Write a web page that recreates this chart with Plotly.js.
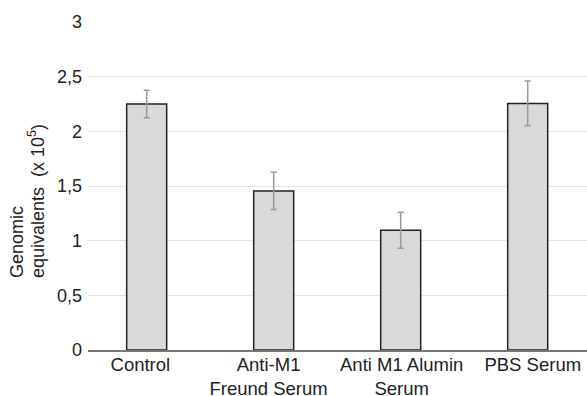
<!DOCTYPE html>
<html>
<head>
<meta charset="utf-8">
<script src="https://cdn.plot.ly/plotly-3.0.1.min.js"></script>
<style>html,body{margin:0;padding:0;background:#fff;}#chart{width:587px;height:396px;}</style>
</head>
<body>
<div id="chart"></div>
<script>
const categories = ["Control", "Anti-M1<br>Freund Serum", "Anti M1 Alumin<br>Serum", "PBS Serum"];
const means = [2.25, 1.455, 1.095, 2.255];
const errors = [0.125, 0.17, 0.165, 0.205];
const yTickVals = [0, 0.5, 1, 1.5, 2, 2.5, 3];
const yTickText = ["0", "0,5", "1", "1,5", "2", "2,5", "3"];
const yTitleLine1 = "Genomic";
const yTitleLine2 = "equivalents  (x 10<sup>5</sup>)";

const font = "Liberation Sans, Arial, sans-serif";
const L = 88, W = 587 - L, T = 22, H = 328;
const labelNudge = [-0.05, -0.04, 0.008, 0.04];

const trace = {
  type: "bar",
  x: categories.map((c, i) => i),
  y: means,
  width: 0.315,
  marker: {color: "#d9d9d9", line: {color: "#222222", width: 1.5}},
  error_y: {type: "data", array: errors, visible: true, color: "#999999", thickness: 1.5, width: 3},
  hoverinfo: "skip"
};

const layout = {
  width: 587, height: 396,
  margin: {l: L, r: 0, t: T, b: 396 - T - H},
  paper_bgcolor: "#ffffff", plot_bgcolor: "#ffffff",
  showlegend: false,
  font: {family: font, size: 18.5, color: "#222222"},
  xaxis: {
    range: [-0.462, 3.467],
    tickvals: categories.map((c, i) => i + labelNudge[i]),
    ticktext: categories,
    showgrid: false, zeroline: false,
    showline: true, linecolor: "#777777", linewidth: 2,
    ticks: "", ticklabelstandoff: -3,
    tickfont: {family: font, size: 18.5, color: "#222222"},
    fixedrange: true
  },
  yaxis: {
    range: [0, 3],
    tickvals: yTickVals,
    ticktext: yTickText,
    showgrid: true, gridcolor: "#e3e3e3", gridwidth: 1,
    zeroline: false, showline: false, ticks: "",
    ticklabelstandoff: 5,
    tickfont: {family: font, size: 18, color: "#222222"},
    fixedrange: true
  },
  annotations: [
    {text: yTitleLine1, xref: "paper", yref: "paper", x: (17 - L) / W, y: (T + H - 280) / H,
     xanchor: "center", yanchor: "bottom", textangle: -90, showarrow: false,
     font: {family: font, size: 18, color: "#222222"}},
    {text: yTitleLine2, xref: "paper", yref: "paper", x: (36 - L) / W, y: (T + H - 280) / H,
     xanchor: "center", yanchor: "bottom", textangle: -90, showarrow: false,
     font: {family: font, size: 18, color: "#222222"}}
  ]
};

Plotly.newPlot("chart", [trace], layout, {displayModeBar: false, staticPlot: true});
</script>
</body>
</html>
